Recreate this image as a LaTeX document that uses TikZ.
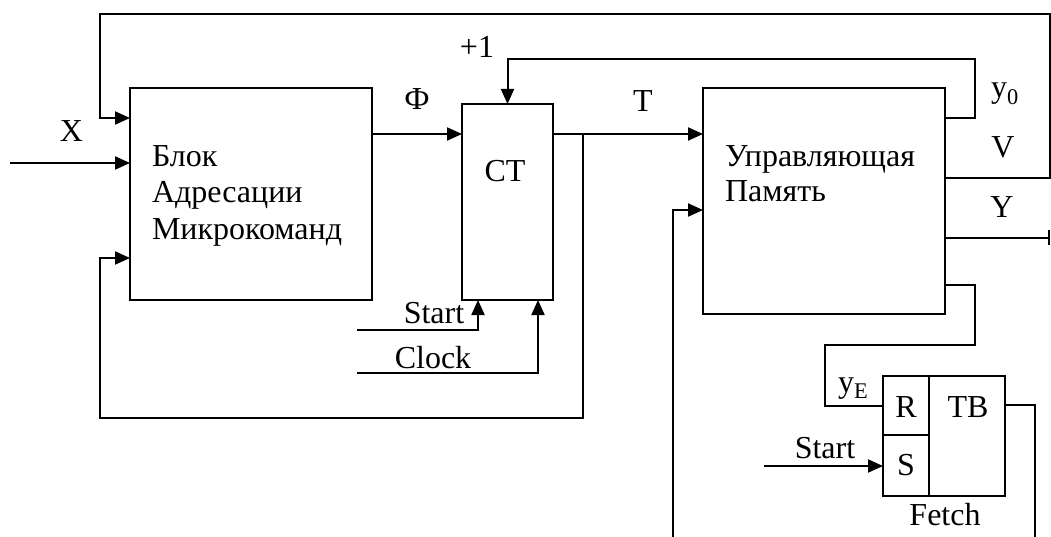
\documentclass[tikz,border=0pt]{standalone}
\usepackage{fontspec}
\setmainfont{Liberation Serif}
\usetikzlibrary{arrows.meta}
\begin{document}
\begin{tikzpicture}[x=1pt,y=-1pt,
  lw/.style={line width=2pt},
  box/.style={draw,lw,rectangle,inner sep=0pt,outer sep=0pt},
  wire/.style={lw,line join=miter},
  arr/.style={wire,-{Triangle[length=15pt,width=13pt]}},
  bar/.style={wire,-{Bar[width=15pt,line width=2pt]}},
  lbl/.style={inner sep=0pt,outer sep=0pt,anchor=base,font=\fontsize{32}{36}\selectfont},
  lbll/.style={lbl,anchor=base west}]
\useasboundingbox (0,0) rectangle (1051,537);
% blocks
\node[box,minimum width=242pt,minimum height=212pt] (bam) at (251,194) {};
\node[box,minimum width=91pt,minimum height=196pt] (ct) at (507.5,202) {};
\node[box,minimum width=242pt,minimum height=226pt] (mem) at (824,201) {};
\node[box,minimum width=46pt,minimum height=59pt] (rbox) at (906,405.5) {};
\node[box,minimum width=46pt,minimum height=61pt] (sbox) at (906,465.5) {};
\node[box,minimum width=76pt,minimum height=120pt] (tbbox) at (967,436) {};
% block texts
\node[lbll] (bam1) at (152,167) {Блок};
\node[lbll] (bam2) at (152,203) {Адресации};
\node[lbll] (bam3) at (152,240) {Микрокоманд};
\node[lbl] (cttxt) at (505,182) {CT};
\node[lbll] (mem1) at (725,167) {Управляющая};
\node[lbll] (mem2) at (725,202) {Память};
\node[lbl] (rtxt) at (906,417) {R};
\node[lbl] (stxt) at (906,475) {S};
\node[lbl] (tbtxt) at (968,417) {TB};
% coordinates
\coordinate (xin) at (10,163);
\coordinate (startct) at (357,330);
\coordinate (clockin) at (357,373);
\coordinate (memin) at (673,537);
\coordinate (startS) at (764,466);
\coordinate (tbout) at (1035,537);
\coordinate (yout) at (1050,238);
% connectors
\draw[arr] (mem.east |- 0,178) -| (1050,14) -| (100,118) -- (bam.west |- 0,118);
\draw[arr] (xin) -- (bam.west |- xin);
\draw[arr] (bam.east |- 0,134) -- (ct.west |- 0,134);
\draw[arr] (ct.east |- 0,134) -- (mem.west |- 0,134);
\draw[arr] (583,134) -- (583,418) -| (100,258) -- (bam.west |- 0,258);
\draw[arr] (mem.east |- 0,118) -| (975,59) -| (ct.north);
\draw[bar] (mem.east |- yout) -- (yout);
\draw[arr] (memin) |- (mem.west |- 0,210);
\draw[wire] (mem.east |- 0,285) -| (975,345) -| (825,405.5) -- (rbox.west);
\draw[arr] (startS) -- (sbox.west |- startS);
\draw[wire] (tbbox.east |- 0,405) -| (tbout);
\draw[arr] (startct) -| (ct.south -| 478,0);
\draw[arr] (clockin) -| (ct.south -| 538,0);
% labels
\node[lbl] (lx) at (71.5,142) {X};
\node[lbl] (lphi) at (417,110) {Ф};
\node[lbl] (lplus) at (477,58) {+1};
\node[lbl] (lt) at (643,112) {T};
\node[lbll] (ly0) at (991,98) {y\textsubscript{0}};
\node[lbl] (lv) at (1003,158) {V};
\node[lbl] (ly) at (1002,218) {Y};
\node[lbll] (lye) at (838,392) {y\textsubscript{E}};
\node[lbl] (lstart2) at (825,458) {Start};
\node[lbl] (lfetch) at (945,525) {Fetch};
\node[lbl] (lstart1) at (434,323) {Start};
\node[lbl] (lclock) at (433,368) {Clock};
\end{tikzpicture}
\end{document}
